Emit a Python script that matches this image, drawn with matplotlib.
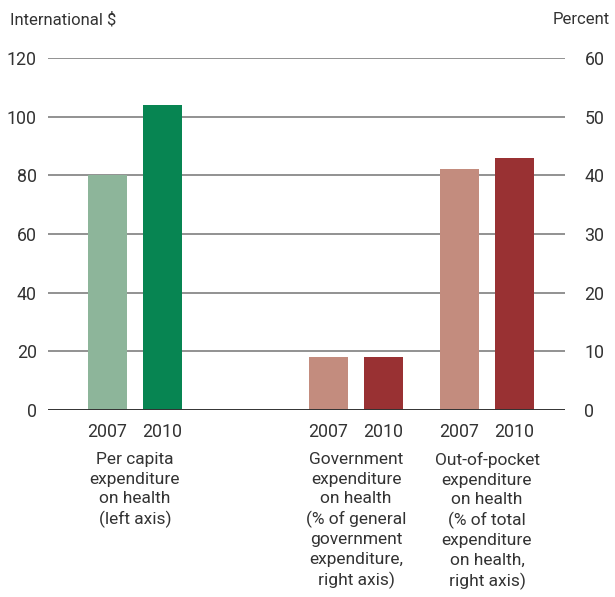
import matplotlib
matplotlib.use("Agg")
import matplotlib.pyplot as plt

plt.rcParams['font.family'] = ['Roboto', 'DejaVu Sans']

years = ["2007", "2010"]
per_capita = [80, 104]          # International $, left axis
gov_share = [9, 9]              # percent, right axis
oop_share = [41, 43]            # percent, right axis
categories = [
    "Per capita\nexpenditure\non health\n(left axis)",
    "Government\nexpenditure\non health\n(% of general\ngovernment\nexpenditure,\nright axis)",
    "Out-of-pocket\nexpenditure\non health\n(% of total\nexpenditure\non health,\nright axis)",
]
left_ticks = [0, 20, 40, 60, 80, 100, 120]
right_ticks = [0, 10, 20, 30, 40, 50, 60]

colors = [("#8DB59A", "#078552"), ("#C38C7E", "#993133"), ("#C38C7E", "#993133")]
txt = "#333333"
fs = 12.8

W, H = 615, 597
fig = plt.figure(figsize=(W / 100, H / 100), dpi=100)
x0, x1, y0, y1 = 48, 565, 410, 58
ax = fig.add_axes([x0 / W, 1 - y0 / H, (x1 - x0) / W, (y0 - y1) / H])
ax2 = ax.twinx()

ax.set_xlim(x0, x1)
ax.set_ylim(0, 120)
ax2.set_ylim(0, 60)

centers = [135, 356, 487]
off = 27.5
bw = 39

for t in left_ticks[1:]:
    ax.axhline(t, color="#7f7f7f", lw=1.2, zorder=0)
ax2.axhline(0, color="#333333", lw=1.4, zorder=5)

ax.bar([centers[0] - off, centers[0] + off], per_capita, width=bw,
       color=colors[0], zorder=2)
ax2.bar([centers[1] - off, centers[1] + off], gov_share, width=bw,
        color=colors[1], zorder=2)
ax2.bar([centers[2] - off, centers[2] + off], oop_share, width=bw,
        color=colors[2], zorder=2)

for a, ticks in ((ax, left_ticks), (ax2, right_ticks)):
    a.set_yticks(ticks)
    a.tick_params(axis="y", length=0, labelsize=fs, labelcolor=txt, pad=8)
    for s in a.spines.values():
        s.set_visible(False)
ax2.tick_params(axis="y", pad=14)
ax.set_xticks([])

trans = ax.get_xaxis_transform()
for c in centers:
    for dx, yr in zip((-off, off), years):
        ax.text(c + dx, -0.063, yr, transform=trans, ha="center", va="center",
                fontsize=fs, color=txt)
for c, lab in zip(centers, categories):
    ax.text(c, -0.12, lab, transform=trans, ha="center", va="top",
            fontsize=12.5, color=txt, linespacing=1.36, multialignment="center")

fig.text(10 / W, 1 - 20 / H, "International $", ha="left", va="center",
         fontsize=12, color=txt)
fig.text(610 / W, 1 - 20 / H, "Percent", ha="right", va="center",
         fontsize=12, color=txt)

fig.savefig("out.png", dpi=100)
